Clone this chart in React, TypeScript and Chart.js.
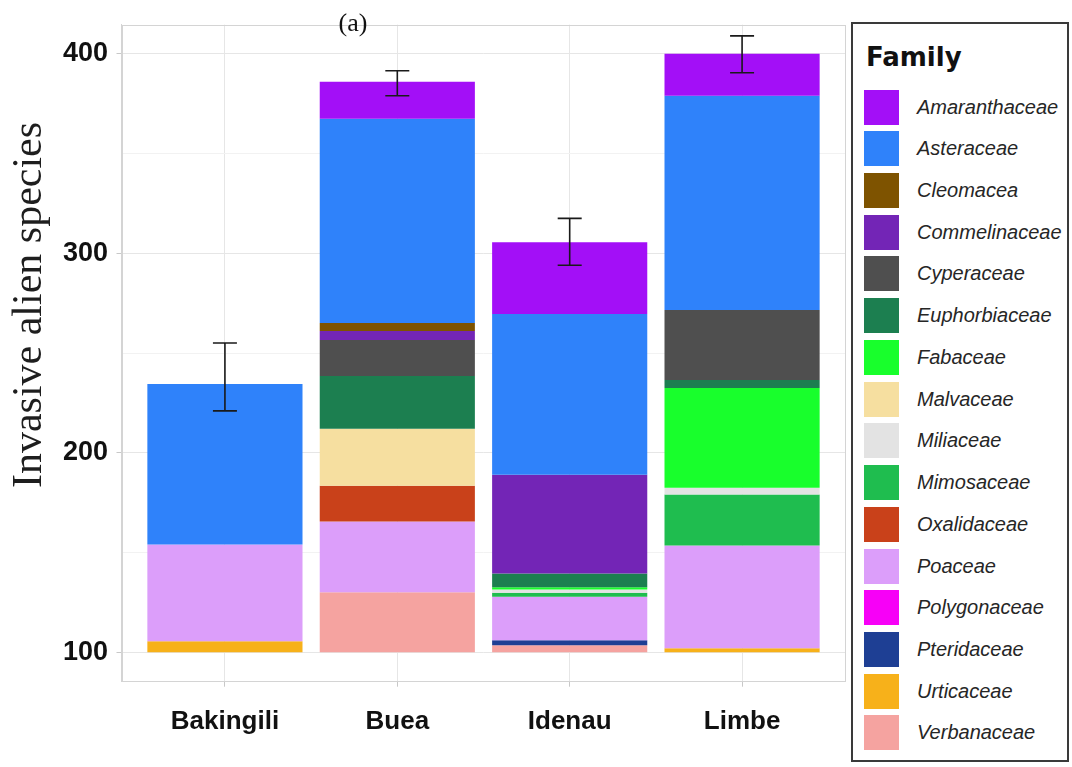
import React, { useEffect, useRef } from "react";
import { Chart, registerables } from "chart.js";

Chart.register(...registerables);

// Sites along the x axis
const SITES = ["Bakingili", "Buea", "Idenau", "Limbe"];

// Every stack starts at this count
const BASE = 100;

// Families in legend order (top of each stack first)
const FAMILIES = [
  "Amaranthaceae",
  "Asteraceae",
  "Cleomacea",
  "Commelinaceae",
  "Cyperaceae",
  "Euphorbiaceae",
  "Fabaceae",
  "Malvaceae",
  "Miliaceae",
  "Mimosaceae",
  "Oxalidaceae",
  "Poaceae",
  "Polygonaceae",
  "Pteridaceae",
  "Urticaceae",
  "Verbanaceae",
];

const COLORS = [
  "#a30ff7",
  "#2f82fa",
  "#7e5300",
  "#7325b6",
  "#4f4f4f",
  "#1c7f50",
  "#18ff2c",
  "#f6dfa0",
  "#e3e3e3",
  "#1fbd4f",
  "#c9411a",
  "#dc9efa",
  "#f700f7",
  "#1e3f94",
  "#f7b11a",
  "#f5a3a0",
];

// Species per family and site: [Bakingili, Buea, Idenau, Limbe]
const AMARANTHACEAE = [0, 18.5, 36, 21];
const ASTERACEAE = [80.5, 102.5, 80.5, 107.5];
const CLEOMACEA = [0, 4, 0, 0];
const COMMELINACEAE = [0, 4.5, 49.5, 0];
const CYPERACEAE = [0, 18, 0, 35];
const EUPHORBIACEAE = [0, 26.5, 6.9, 4];
const FABACEAE = [0, 0, 1.2, 50];
const MALVACEAE = [0, 28.5, 0, 0];
const MILIACEAE = [0, 0, 1.6, 3.5];
const MIMOSACEAE = [0, 0, 2, 25.5];
const OXALIDACEAE = [0, 18, 0, 0];
const POACEAE = [48.5, 35.5, 21.8, 51.5];
const POLYGONACEAE = [0, 0, 0, 0];
const PTERIDACEAE = [0, 0, 2.5, 0];
const URTICACEAE = [5.5, 0, 0, 2];
const VERBANACEAE = [0, 30, 3.5, 0];

const SEGMENTS = [
  AMARANTHACEAE,
  ASTERACEAE,
  CLEOMACEA,
  COMMELINACEAE,
  CYPERACEAE,
  EUPHORBIACEAE,
  FABACEAE,
  MALVACEAE,
  MILIACEAE,
  MIMOSACEAE,
  OXALIDACEAE,
  POACEAE,
  POLYGONACEAE,
  PTERIDACEAE,
  URTICACEAE,
  VERBANACEAE,
];

// Error bar limits per site
const ERR_LOW = [221, 379, 294, 390.5];
const ERR_HIGH = [255, 391.5, 317.5, 409];

// Labelled y ticks and the gridline values between them
const Y_TICKS = [100, 200, 300, 400];
const Y_GRID = [100, 150, 200, 250, 300, 350, 400];

const Y_TITLE = "Invasive alien species";
const PANEL_TAG = "(a)";
const LEGEND_TITLE = "Family";

const CANVAS_W = 848;
const CANVAS_H = 767;

const SANS = '"Liberation Sans", Arial, sans-serif';
const SERIF = '"Liberation Serif", "Times New Roman", serif';

// Stack the families bottom-up (reverse legend order) into floating [low, high] bars
function buildDatasets() {
  const level = SITES.map(() => BASE);
  const ranges: Array<Array<[number, number] | null>> = FAMILIES.map(() =>
    SITES.map(() => null)
  );
  for (let f = FAMILIES.length - 1; f >= 0; f--) {
    SEGMENTS[f].forEach((v, s) => {
      if (v > 0) {
        ranges[f][s] = [level[s], level[s] + v];
        level[s] += v;
      }
    });
  }
  return FAMILIES.map((name, f) => ({
    label: name,
    backgroundColor: COLORS[f],
    borderWidth: 0,
    stack: "site",
    categoryPercentage: 1,
    barPercentage: 0.9,
    data: SITES.map((_, s) => ({ x: s + 1, y: ranges[f][s] })).filter(
      (p) => p.y !== null
    ),
  }));
}

const panelFrame = {
  id: "panelFrame",
  afterDraw(chart: any) {
    const { ctx, chartArea } = chart;
    ctx.save();
    ctx.strokeStyle = "#d4d4d4";
    ctx.lineWidth = 1;
    ctx.strokeRect(
      Math.round(chartArea.left) + 0.5,
      Math.round(chartArea.top) + 0.5,
      Math.round(chartArea.right - chartArea.left) - 1,
      Math.round(chartArea.bottom - chartArea.top) - 1
    );
    ctx.restore();
  },
};

const errorBars = {
  id: "errorBars",
  afterDatasetsDraw(chart: any) {
    const { ctx } = chart;
    const xs = chart.scales.x;
    const ys = chart.scales.y;
    const cap = 12;
    ctx.save();
    ctx.strokeStyle = "#1a1a1a";
    ctx.lineWidth = 1.6;
    SITES.forEach((_, i) => {
      const x = xs.getPixelForValue(i + 1);
      const lo = ys.getPixelForValue(ERR_LOW[i]);
      const hi = ys.getPixelForValue(ERR_HIGH[i]);
      ctx.beginPath();
      ctx.moveTo(x, lo);
      ctx.lineTo(x, hi);
      ctx.moveTo(x - cap, lo);
      ctx.lineTo(x + cap, lo);
      ctx.moveTo(x - cap, hi);
      ctx.lineTo(x + cap, hi);
      ctx.stroke();
    });
    ctx.restore();
  },
};

const sideTexts = {
  id: "sideTexts",
  afterDraw(chart: any) {
    const { ctx } = chart;
    ctx.save();
    ctx.fillStyle = "#1e1e1e";
    ctx.font = `42px ${SERIF}`;
    ctx.textAlign = "center";
    ctx.textBaseline = "alphabetic";
    ctx.translate(41, 305);
    ctx.rotate(-Math.PI / 2);
    ctx.fillText(Y_TITLE, 0, 0);
    ctx.restore();

    ctx.save();
    ctx.fillStyle = "#111";
    ctx.font = `26px ${SERIF}`;
    ctx.textAlign = "center";
    ctx.textBaseline = "alphabetic";
    ctx.fillText(PANEL_TAG, 353, 31);
    ctx.restore();
  },
};

function ChartCanvas() {
  const ref = useRef<HTMLCanvasElement | null>(null);

  useEffect(() => {
    if (!ref.current) return;
    const chart = new Chart(ref.current, {
      type: "bar",
      data: { datasets: buildDatasets() as any },
      options: {
        animation: false,
        responsive: false,
        maintainAspectRatio: false,
        events: [],
        layout: { padding: { top: 21.7, right: 2.5, left: 0, bottom: 0 } },
        plugins: {
          legend: { display: false },
          tooltip: { enabled: false },
        },
        scales: {
          x: {
            type: "linear",
            min: 0.4,
            max: 4.6,
            stacked: true,
            offset: false,
            grid: {
              offset: false,
              color: "#e6e6e6",
              lineWidth: 1,
              drawTicks: true,
              tickLength: 5,
              tickColor: "#c8c8c8",
            },
            border: { display: true, color: "#d4d4d4" },
            ticks: {
              padding: 20,
              color: "#111",
              font: { family: SANS, size: 26, weight: "bold" },
              callback: (v: any) => SITES[Math.round(Number(v)) - 1] ?? "",
            },
            afterBuildTicks: (scale: any) => {
              scale.ticks = SITES.map((_, i) => ({ value: i + 1 }));
            },
            afterFit: (scale: any) => {
              scale.height = 767 - 681.7;
            },
          },
          y: {
            type: "linear",
            min: 85.2,
            max: 414.6,
            stacked: false,
            beginAtZero: false,
            grid: {
              color: (c: any) =>
                c.tick && Y_TICKS.includes(c.tick.value) ? "#e6e6e6" : "#f2f2f2",
              lineWidth: 1,
              drawTicks: true,
              tickLength: 5,
              tickColor: (c: any) =>
                c.tick && Y_TICKS.includes(c.tick.value)
                  ? "#c8c8c8"
                  : "rgba(0,0,0,0)",
            },
            border: { display: true, color: "#d4d4d4" },
            ticks: {
              padding: 8.5,
              color: "#111",
              font: { family: SANS, size: 27, weight: "bold" },
              callback: (v: any) => (Y_TICKS.includes(Number(v)) ? String(v) : ""),
            },
            afterBuildTicks: (scale: any) => {
              scale.ticks = Y_GRID.map((value) => ({ value }));
            },
            afterFit: (scale: any) => {
              scale.width = 121.5;
            },
          },
        },
      },
      plugins: [panelFrame, errorBars, sideTexts],
    });
    return () => chart.destroy();
  }, []);

  return (
    <canvas
      ref={ref}
      width={CANVAS_W}
      height={CANVAS_H}
      style={{ position: "absolute", left: 0, top: 0, width: CANVAS_W, height: CANVAS_H }}
    />
  );
}

function Legend() {
  const rowStart = 107;
  const rowStep = 41.73;
  const sw = 35;
  return (
    <div
      style={{
        position: "absolute",
        left: 851,
        top: 22,
        width: 218,
        height: 740,
        border: "2px solid #3a3a3a",
        boxSizing: "border-box",
        background: "#fff",
      }}
    >
      <div
        style={{
          position: "absolute",
          left: 13,
          top: 20,
          font: `bold 26px "DejaVu Sans", sans-serif`,
          lineHeight: "26px",
          color: "#111",
          whiteSpace: "nowrap",
        }}
      >
        {LEGEND_TITLE}
      </div>
      {FAMILIES.map((name, i) => {
        const cy = rowStart + i * rowStep - 24;
        return (
          <div
            key={name}
            style={{
              position: "absolute",
              left: 11,
              top: cy - sw / 2,
              height: sw,
              display: "flex",
              alignItems: "center",
              whiteSpace: "nowrap",
            }}
          >
            <div style={{ width: sw, height: sw, background: COLORS[i] }} />
            <div
              style={{
                marginLeft: 18,
                font: `italic 20px ${SANS}`,
                lineHeight: `${sw}px`,
                color: "#262626",
              }}
            >
              {name}
            </div>
          </div>
        );
      })}
    </div>
  );
}

export default function App() {
  return (
    <div
      style={{
        position: "fixed",
        left: 0,
        top: 0,
        width: 1072,
        height: 767,
        background: "#fff",
        overflow: "hidden",
      }}
    >
      <ChartCanvas />
      <Legend />
    </div>
  );
}
